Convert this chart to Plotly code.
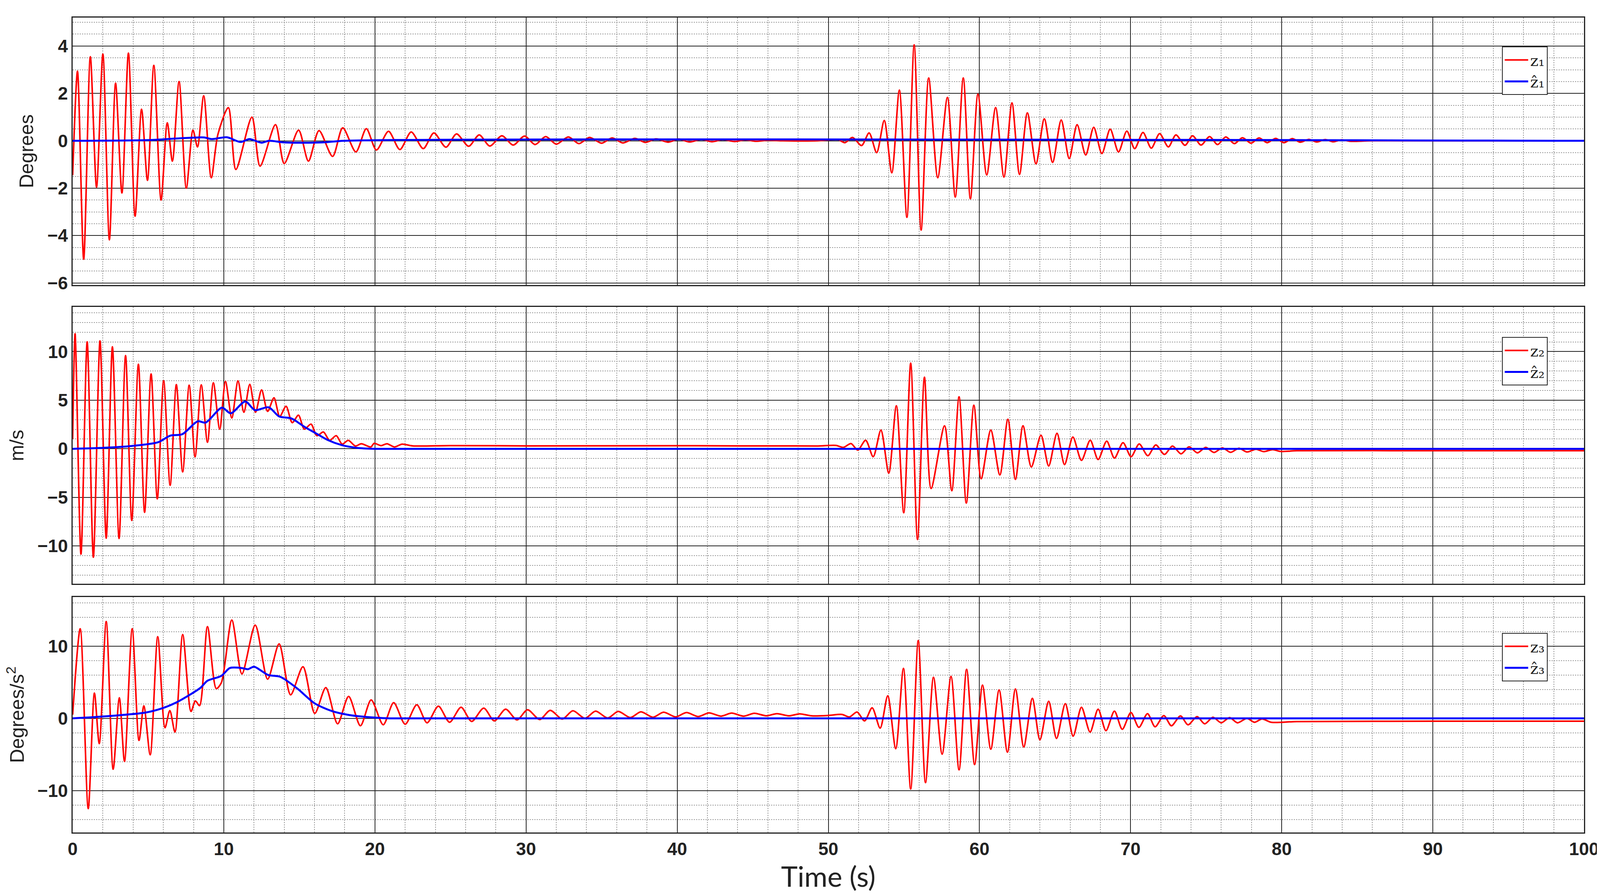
import plotly.graph_objects as go

# ---- data (extrema / turning points) ----
z1_t = [0, 0.32, 0.73, 1.17, 1.58, 2.0, 2.43, 2.84, 3.26, 3.69, 4.13, 4.56, 4.95, 5.37, 5.85, 6.26, 6.6, 7.04,
        7.52, 7.96, 8.26, 8.67, 9.17, 9.61, 10.3, 10.8, 11.86, 12.4, 13.42, 14.0, 14.95, 15.6, 16.3, 17.2,
        17.87, 18.74, 19.43, 20.1, 20.9, 21.65, 22.4, 23.2, 23.9, 24.7, 25.4, 26.2, 26.9, 27.6, 28.4, 29.15,
        29.9, 30.6, 31.3, 32.0, 32.8, 33.5, 34.2, 35.0, 35.7, 36.4, 37.2, 37.9, 38.6, 39.4, 40.1, 40.8, 41.6,
        42.3, 43.0, 43.8, 44.5, 45.2, 46.0, 47.0, 49.3,
        50.64, 51.1, 51.6, 52.2, 52.7, 53.2, 53.7, 54.2, 54.7, 55.2, 55.68, 56.14, 56.64, 57.24, 57.88, 58.4,
        58.93, 59.4, 59.9, 60.48, 61.07, 61.62, 62.15, 62.65, 63.17, 63.74, 64.29, 64.84, 65.41, 65.94, 66.46,
        67.03, 67.56, 68.1, 68.65, 69.2, 69.75, 70.27, 70.82, 71.37, 71.92, 72.5, 73.0, 73.6, 74.1, 74.66,
        75.23, 75.75, 76.3, 76.87, 77.4, 77.97, 78.5, 79.04, 79.6, 80.14, 80.7, 81.23, 81.8, 82.3, 82.88, 83.4,
        83.97, 84.5, 86, 100]
z1_v = [-1.45, 2.94, -5.0, 3.55, -1.96, 3.66, -4.18, 2.43, -2.2, 3.7, -3.18, 1.33, -1.67, 3.18, -2.5, 0.76, -0.86,
        2.5, -2.0, 0.45, -0.26, 1.9, -1.56, 0.27, 1.4, -1.21, 1.0, -1.07, 0.68, -0.96, 0.45, -0.86, 0.43, -0.66,
        0.55, -0.47, 0.51, -0.39, 0.4, -0.37, 0.37, -0.33, 0.33, -0.27, 0.29, -0.23, 0.25, -0.22, 0.21, -0.18,
        0.2, -0.16, 0.18, -0.14, 0.16, -0.12, 0.14, -0.1, 0.12, -0.09, 0.1, -0.07, 0.08, -0.06, 0.07, -0.05,
        0.06, -0.04, 0.05, -0.03, 0.04, -0.02, 0.02, 0, 0,
        0.05, -0.08, 0.14, -0.2, 0.33, -0.5, 0.86, -1.35, 2.14, -3.23, 4.05, -3.77, 2.65, -1.56, 1.83, -2.37,
        2.65, -2.45, 1.97, -1.44, 1.4, -1.53, 1.6, -1.42, 1.18, -0.97, 0.93, -0.91, 0.88, -0.75, 0.68,
        -0.6, 0.57, -0.54, 0.49, -0.47, 0.41, -0.33, 0.35, -0.31, 0.3, -0.26, 0.25, -0.19, 0.21, -0.18,
        0.18, -0.16, 0.16, -0.12, 0.13, -0.1, 0.12, -0.08, 0.1, -0.08, 0.09, -0.06, 0.06, -0.05, 0.05, -0.04,
        0.04, -0.02, 0, 0]
z1h_t = [0, 5, 7, 8.7, 9.2, 10.2, 11.1, 11.7, 12.5, 13, 14, 16.5, 18, 100]
z1h_v = [0, 0.03, 0.1, 0.14, 0.07, 0.15, -0.05, 0.07, -0.08, 0.0, -0.07, -0.07, 0, 0]

z2_t = [0, 0.16, 0.55, 0.96, 1.37, 1.81, 2.22, 2.63, 3.07, 3.5, 3.91, 4.35, 4.76, 5.19, 5.6, 6.02, 6.45, 6.86,
        7.28, 7.71, 8.1, 8.51, 8.92, 9.31, 9.73, 10.11, 10.53, 10.94, 11.33, 11.72, 12.1, 12.5, 12.9, 13.32,
        13.7, 14.12, 14.53, 14.94, 15.33, 15.77, 16.16, 16.59, 17.0, 17.44, 17.83, 18.24, 18.7, 19.1, 19.73,
        19.95, 20.4, 20.8, 21.3, 21.8, 22.5, 25, 30, 40, 49.2,
        50.5, 51.0, 51.5, 51.95, 52.47, 52.97, 53.48, 54.0, 54.5, 54.99, 55.45, 55.9, 56.36, 56.8, 57.69, 58.17,
        58.65, 59.13, 59.63, 60.11, 60.75, 61.35, 61.88, 62.38, 62.88, 63.43, 64.07, 64.58, 65.13, 65.63,
        66.18, 66.75, 67.33, 67.85, 68.42, 68.93, 69.5, 70.03, 70.57, 71.14, 71.67, 72.24, 72.77, 73.34,
        73.87, 74.42, 74.97, 75.52, 76.07, 76.62, 77.17, 77.7, 78.3, 78.8, 79.4, 79.9, 81, 90, 100]
z2_v = [1.0, 11.83, -10.83, 11.0, -11.15, 11.1, -9.2, 10.5, -9.23, 9.6, -7.37, 8.7, -6.54, 7.7, -5.15, 7.0, -3.75,
        6.6, -2.37, 6.54, -0.83, 6.58, 0.67, 6.79, 2.02, 6.92, 3.17, 6.98, 3.75, 6.63, 3.75, 6.06, 3.85, 5.25,
        3.33, 4.37, 2.69, 3.46, 2.02, 2.54, 1.35, 1.73, 0.87, 1.35, 0.48, 0.87, 0.29, 0.52, 0.19,
        0.56, 0.33, 0.52, 0.19, 0.48, 0.3, 0.33, 0.3, 0.32, 0.29,
        0.35, 0.15, 0.54, -0.13, 0.88, -0.81, 1.92, -2.5, 4.42, -6.58, 8.81, -9.33, 7.37, -4.08, 2.37, -4.31,
        5.35, -5.58, 4.48, -3.08, 1.92, -2.69, 3.04, -3.15, 2.37, -1.87, 1.4, -1.77, 1.6, -1.63,
        1.21, -1.19, 0.88, -1.1, 0.79, -0.96, 0.63, -0.81, 0.5, -0.71, 0.4, -0.58, 0.29, -0.52,
        0.21, -0.42, 0.15, -0.38, 0.1, -0.37, 0.06, -0.33, -0.04, -0.29, -0.08, -0.27, -0.2, -0.2, -0.2]
z2h_t = [0, 2, 3.9, 5.65, 6.45, 7.25, 8.28, 8.8, 9.88, 10.46, 11.42, 12.06, 12.97, 13.66, 14.46, 15.4, 16.06,
         16.86, 17.8, 18.8, 20, 100]
z2h_v = [0, 0.1, 0.29, 0.67, 1.35, 1.5, 2.83, 2.7, 4.23, 3.65, 4.87, 3.98, 4.27, 3.33, 3.13, 2.2, 1.63,
         0.92, 0.38, 0.1, 0, 0]

z3_t = [0, 0.5, 1.03, 1.44, 1.76, 2.22, 2.68, 3.09, 3.43, 3.94, 4.39, 4.71, 5.13, 5.63, 6.11, 6.43, 6.77, 7.28,
        7.83, 8.12, 8.4, 8.92, 9.5, 9.84, 10.53, 11.2, 12.08, 12.9, 13.66, 14.42, 15.24, 16.02, 16.75, 17.53,
        18.26, 19.04, 19.75, 20.55, 21.24, 22.0, 22.77, 23.45, 24.2, 24.94, 25.7, 26.4, 27.2, 27.9, 28.65,
        29.4, 30.1, 30.9, 31.6, 32.4, 33.1, 33.9, 34.6, 35.4, 36.1, 36.9, 37.6, 38.4, 39.1, 39.9, 40.6, 41.4,
        42.1, 42.9, 43.6, 44.4, 45.1, 45.9, 46.6, 47.4, 48.1, 48.9, 50.0,
        50.9, 51.4, 51.9, 52.4, 52.9, 53.43, 53.93, 54.46, 54.97, 55.45, 55.95, 56.43, 56.96, 57.53, 58.12,
        58.65, 59.15, 59.68, 60.2, 60.75, 61.3, 61.85, 62.38, 62.93, 63.5, 64.0, 64.58, 65.1, 65.68, 66.2,
        66.75, 67.32, 67.85, 68.37, 68.93, 69.45, 70.02, 70.55, 71.12, 71.62, 72.2, 72.7, 73.3, 73.8, 74.4,
        74.9, 75.45, 76.0, 76.55, 77.07, 77.7, 78.2, 78.7, 79.3, 81, 90, 100]
z3_v = [0.5, 12.4, -12.5, 3.5, -3.5, 13.4, -7.05, 2.85, -5.96, 12.4, -3.06, 1.73, -5.04, 11.3, -1.3, 1.08, -1.9,
        11.6, 0.95, 2.41, 1.76, 12.7, 4.12, 4.93, 13.6, 6.15, 12.9, 5.42, 10.3, 3.25, 7.15, 0.68, 4.25, -0.76,
        3.04, -1.03, 2.55, -0.89, 2.17, -0.81, 1.87, -0.62, 1.68, -0.54, 1.54, -0.43, 1.41, -0.35, 1.27,
        -0.22, 1.19, -0.16, 1.1, -0.1, 1.05, 0, 1.0, 0.05, 0.95, 0.1, 0.9, 0.15, 0.85, 0.2, 0.8, 0.25,
        0.75, 0.3, 0.72, 0.3, 0.7, 0.35, 0.65, 0.35, 0.62, 0.35, 0.4,
        0.54, 0.19, 0.87, -0.35, 1.46, -1.36, 3.12, -4.2, 6.91, -9.78, 10.76, -8.9, 5.69, -4.96, 5.8,
        -7.13, 6.78, -6.4, 4.6, -4.28, 3.93, -4.69, 4.07, -3.96, 2.76, -2.98, 2.36, -2.79, 2.03, -2.47,
        1.54, -1.9, 1.27, -1.71, 1.0, -1.52, 0.81, -1.25, 0.65, -1.17, 0.38, -1.03, 0.33, -0.89, 0.24,
        -0.76, 0.14, -0.62, 0.11, -0.62, 0, -0.54, -0.08, -0.54, -0.45, -0.4, -0.4]
z3h_t = [0, 2.5, 4.8, 5.95, 6.86, 7.78, 8.47, 8.92, 9.84, 10.4, 11.2, 11.6, 12.0, 12.93, 13.73, 14.87, 16.0,
         17.16, 18.3, 20, 21, 100]
z3h_v = [0, 0.33, 0.79, 1.41, 2.2, 3.3, 4.25, 5.2, 5.88, 6.96, 6.96, 6.8, 7.15, 6.0, 5.75, 4.12, 2.09,
         1.0, 0.46, 0.1, 0, 0]

x_ticks = [0, 10, 20, 30, 40, 50, 60, 70, 80, 90, 100]

panels = [
    (z1_t, z1_v, z1h_t, z1h_v, "z\u2081", "\u1e91\u2081"),
    (z2_t, z2_v, z2h_t, z2h_v, "z\u2082", "\u1e91\u2082"),
    (z3_t, z3_v, z3h_t, z3h_v, "z\u2083", "\u1e91\u2083"),
]

fig = go.Figure()
for i, (rt, rv, bt, bv, rname, bname) in enumerate(panels):
    ax = "" if i == 0 else str(i + 1)
    leg = "legend" if i == 0 else "legend" + str(i + 1)
    fig.add_trace(go.Scatter(x=rt, y=rv, mode="lines", name=rname, line=dict(color="#ff0000", width=4, shape="spline", smoothing=0.8),
                             xaxis="x" + ax, yaxis="y" + ax, legend=leg))
    fig.add_trace(go.Scatter(x=bt, y=bv, mode="lines", name=bname, line=dict(color="#0000ff", width=5, shape="spline", smoothing=0.8),
                             xaxis="x" + ax, yaxis="y" + ax, legend=leg))

tickfont = dict(family="Liberation Sans Narrow, Liberation Sans, Arial", size=46, color="#222", weight="bold")
minor_x = dict(dtick=2, showgrid=True, griddash="dot", gridcolor="#9a9a9a", gridwidth=2)

def xax(show, anchor):
    return dict(range=[0, 100], tickvals=x_ticks, showticklabels=show, anchor=anchor,
                showgrid=True, gridcolor="#222", gridwidth=2, minor=minor_x,
                showline=True, linecolor="#222", linewidth=3, mirror=True, ticks="",
                tickfont=tickfont, zeroline=False)

def yax(rng, dtick, mdtick, dom, title, anchor):
    return dict(range=rng, dtick=dtick, domain=dom, anchor=anchor,
                showgrid=True, gridcolor="#222", gridwidth=2,
                minor=dict(dtick=mdtick, showgrid=True, griddash="dot", gridcolor="#9a9a9a", gridwidth=2),
                showline=True, linecolor="#222", linewidth=3, mirror=True, ticks="",
                tickfont=tickfont, zeroline=False,
                title=dict(text=title, font=dict(family="Liberation Sans, Arial", size=50, color="#222"), standoff=20))

legstyle = dict(x=0.976, xanchor="right", yanchor="top", bgcolor="white", bordercolor="#222", borderwidth=2,
                font=dict(family="DejaVu Serif", size=40, color="#222"), itemwidth=60, tracegroupgap=0)

fig.update_layout(
    width=4142, height=2287, autosize=False,
    paper_bgcolor="white", plot_bgcolor="white",
    margin=dict(l=178, r=95, t=37, b=163),
    xaxis=xax(False, "y"),
    xaxis2=xax(False, "y2"),
    xaxis3=dict(xax(True, "y3"), title=dict(text="Time (s)", font=dict(family="Lato, Open Sans", size=72, color="#222"), standoff=10)),
    yaxis=yax([-6.08, 5.2], 2, 0.5, [0.672, 1.0], "Degrees", "x"),
    yaxis2=yax([-13.9, 14.6], 5, 1, [0.305, 0.645], "m/s", "x2"),
    yaxis3=yax([-15.8, 16.8], 10, 2, [0.0, 0.289], "Degrees/s<sup>2</sup>", "x3"),
    legend=dict(legstyle, y=0.9645),
    legend2=dict(legstyle, y=0.608),
    legend3=dict(legstyle, y=0.245),
    showlegend=True,
)

fig.write_html("out.html")
